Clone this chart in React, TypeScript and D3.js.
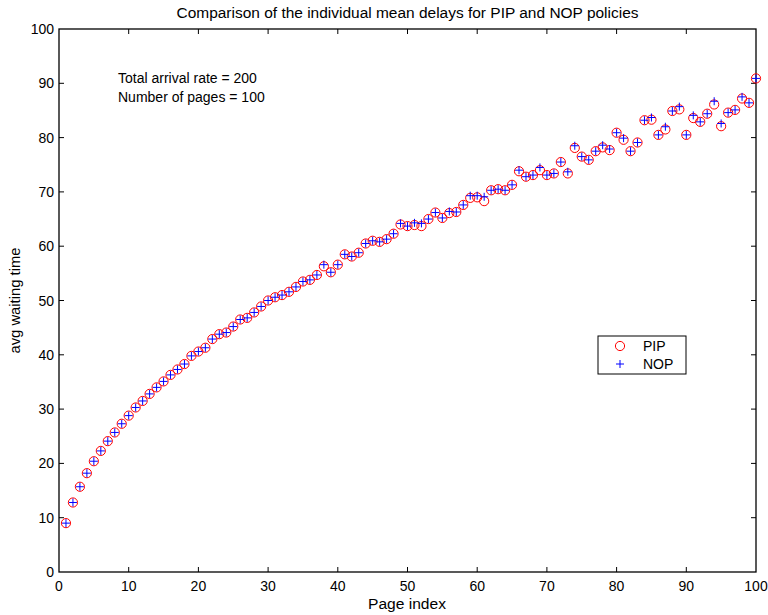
import React, { useEffect, useRef } from "react";
import * as d3 from "d3";

const pageIndex: number[] = d3.range(1, 101);

const pipDelays: number[] = [
  9.0, 12.8, 15.7, 18.2, 20.4, 22.3, 24.1, 25.7, 27.3, 28.8,
  30.3, 31.5, 32.8, 34.0, 35.1, 36.3, 37.3, 38.3, 39.8, 40.6,
  41.3, 42.9, 43.8, 44.1, 45.2, 46.5, 46.8, 47.8, 48.9, 50.0,
  50.6, 51.0, 51.6, 52.5, 53.5, 53.8, 54.7, 56.3, 55.2, 56.6,
  58.5, 58.1, 58.8, 60.5, 61.0, 60.8, 61.3, 62.3, 64.0, 63.7,
  63.9, 63.7, 65.0, 66.2, 65.2, 66.1, 66.3, 67.6, 68.9, 69.0,
  68.3, 70.3, 70.5, 70.3, 71.3, 73.8, 72.8, 73.1, 74.0, 73.1,
  73.4, 75.5, 73.4, 78.1, 76.5, 75.9, 77.5, 78.2, 77.7, 80.9,
  79.6, 77.5, 79.1, 83.2, 83.3, 80.5, 81.5, 84.9, 85.2, 80.5,
  83.6, 82.9, 84.4, 86.1, 82.1, 84.6, 85.1, 87.2, 86.4, 90.9,
];

const nopDelays: number[] = [
  9.0, 12.8, 15.7, 18.2, 20.4, 22.3, 24.1, 25.7, 27.3, 28.8,
  30.3, 31.5, 32.8, 34.0, 35.1, 36.3, 37.3, 38.3, 39.8, 40.6,
  41.3, 42.9, 43.8, 44.1, 45.2, 46.5, 46.8, 47.8, 48.9, 50.0,
  50.6, 51.0, 51.6, 52.5, 53.5, 53.8, 54.7, 56.6, 55.2, 56.6,
  58.5, 58.1, 58.8, 60.5, 61.0, 60.8, 61.3, 62.3, 64.2, 63.7,
  64.3, 64.2, 65.0, 66.2, 65.2, 66.4, 66.3, 67.6, 69.3, 69.3,
  69.1, 70.3, 70.5, 70.3, 71.3, 74.0, 72.8, 73.1, 74.5, 73.1,
  73.4, 75.5, 73.7, 78.5, 76.5, 75.9, 77.5, 78.6, 77.9, 80.9,
  79.9, 77.5, 79.1, 83.2, 83.7, 80.5, 82.0, 84.9, 85.7, 80.5,
  84.1, 82.9, 84.4, 86.7, 82.6, 84.6, 85.1, 87.5, 86.4, 90.9,
];

const xTicks: number[] = [0, 10, 20, 30, 40, 50, 60, 70, 80, 90, 100];
const yTicks: number[] = [0, 10, 20, 30, 40, 50, 60, 70, 80, 90, 100];

const title = "Comparison of the individual mean delays for PIP and NOP policies";
const xLabel = "Page index";
const yLabel = "avg waiting time";
const notes: string[] = ["Total arrival rate = 200", "Number of pages = 100"];
const seriesNames: string[] = ["PIP", "NOP"];

const W = 768;
const H = 615;
const M = { left: 59, right: 756, top: 29, bottom: 572 };
const FONT = "'Liberation Sans', Arial, Helvetica, sans-serif";

export default function App() {
  const ref = useRef<SVGSVGElement | null>(null);

  useEffect(() => {
    document.body.style.margin = "0";
    const svg = d3.select(ref.current);
    svg.selectAll("*").remove();

    const x = d3.scaleLinear().domain([0, 100]).range([M.left, M.right]);
    const y = d3.scaleLinear().domain([0, 100]).range([M.bottom, M.top]);

    svg.append("rect").attr("width", W).attr("height", H).attr("fill", "white");

    // title
    svg.append("text")
      .attr("x", (M.left + M.right) / 2).attr("y", 18)
      .attr("text-anchor", "middle").attr("font-size", 14)
      .attr("textLength", 462).attr("lengthAdjust", "spacingAndGlyphs")
      .attr("font-family", FONT).text(title);

    const g = svg.append("g");
    const tickLen = 5;
    xTicks.forEach((t) => {
      if (t === 0 || t === 100) return;
      g.append("line").attr("x1", x(t)).attr("x2", x(t)).attr("y1", M.bottom).attr("y2", M.bottom - tickLen).attr("stroke", "black");
      g.append("line").attr("x1", x(t)).attr("x2", x(t)).attr("y1", M.top).attr("y2", M.top + tickLen).attr("stroke", "black");
    });
    yTicks.forEach((t) => {
      if (t === 0 || t === 100) return;
      g.append("line").attr("y1", y(t)).attr("y2", y(t)).attr("x1", M.left).attr("x2", M.left + tickLen).attr("stroke", "black");
      g.append("line").attr("y1", y(t)).attr("y2", y(t)).attr("x1", M.right).attr("x2", M.right - tickLen).attr("stroke", "black");
    });
    g.append("rect")
      .attr("x", M.left).attr("y", M.top)
      .attr("width", M.right - M.left).attr("height", M.bottom - M.top)
      .attr("fill", "none").attr("stroke", "black").attr("stroke-width", 1.3);

    xTicks.forEach((t) => {
      svg.append("text").attr("x", x(t)).attr("y", M.bottom + 19)
        .attr("text-anchor", "middle").attr("font-size", 14)
        .attr("font-family", FONT).text(String(t));
    });
    yTicks.forEach((t) => {
      svg.append("text").attr("x", M.left - 5).attr("y", y(t) + 5)
        .attr("text-anchor", "end").attr("font-size", 14)
        .attr("font-family", FONT).text(String(t));
    });

    svg.append("text").attr("x", 407).attr("y", 609)
      .attr("text-anchor", "middle").attr("font-size", 14)
      .attr("textLength", 78).attr("lengthAdjust", "spacingAndGlyphs")
      .attr("font-family", FONT).text(xLabel);
    svg.append("text")
      .attr("transform", `translate(20,${(M.top + M.bottom) / 2}) rotate(-90)`)
      .attr("text-anchor", "middle").attr("font-size", 14)
      .attr("textLength", 106).attr("lengthAdjust", "spacingAndGlyphs")
      .attr("font-family", FONT).text(yLabel);

    notes.forEach((n, i) => {
      svg.append("text").attr("x", 118).attr("y", 83 + i * 19)
        .attr("font-size", 14).attr("font-family", FONT).text(n);
    });

    const r = 4.6;
    const c = 4;
    svg.append("g").selectAll("circle").data(pageIndex).join("circle")
      .attr("cx", (d) => x(d)).attr("cy", (d, i) => y(pipDelays[i]))
      .attr("r", r).attr("fill", "none").attr("stroke", "#ff0000").attr("stroke-width", 1);
    const crosses = svg.append("g").selectAll("g").data(pageIndex).join("g")
      .attr("transform", (d, i) => `translate(${x(d)},${y(nopDelays[i])})`);
    crosses.append("line").attr("x1", -c).attr("x2", c).attr("y1", 0).attr("y2", 0)
      .attr("stroke", "#0000ff").attr("stroke-width", 1);
    crosses.append("line").attr("y1", -c).attr("y2", c).attr("x1", 0).attr("x2", 0)
      .attr("stroke", "#0000ff").attr("stroke-width", 1);

    const lg = svg.append("g");
    lg.append("rect").attr("x", 598).attr("y", 336).attr("width", 88).attr("height", 38)
      .attr("fill", "white").attr("stroke", "black").attr("stroke-width", 1);
    lg.append("circle").attr("cx", 620).attr("cy", 346).attr("r", r)
      .attr("fill", "none").attr("stroke", "#ff0000");
    lg.append("line").attr("x1", 620 - c).attr("x2", 620 + c).attr("y1", 364).attr("y2", 364).attr("stroke", "#0000ff");
    lg.append("line").attr("x1", 620).attr("x2", 620).attr("y1", 364 - c).attr("y2", 364 + c).attr("stroke", "#0000ff");
    seriesNames.forEach((s, i) => {
      lg.append("text").attr("x", 643).attr("y", 351 + i * 18)
        .attr("font-size", 14).attr("font-family", FONT).text(s);
    });
  }, []);

  return <svg ref={ref} width={W} height={H} style={{ display: "block" }} />;
}
